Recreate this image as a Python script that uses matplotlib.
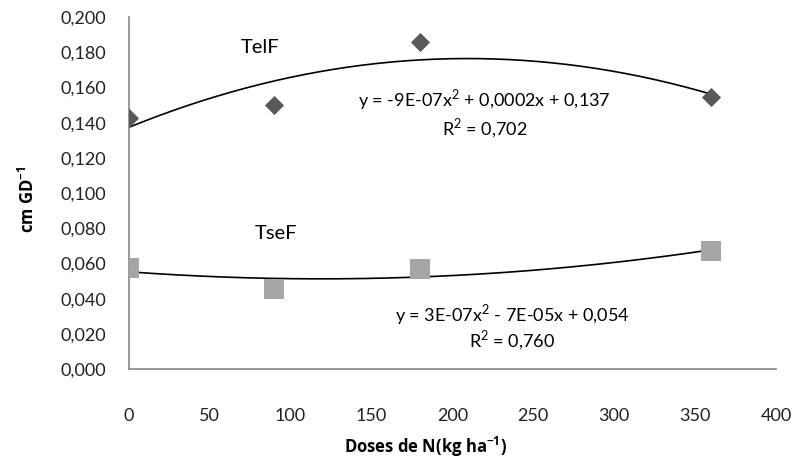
import numpy as np
import matplotlib
matplotlib.use("Agg")
import matplotlib.pyplot as plt

plt.rcParams['font.family'] = ['Lato', 'DejaVu Sans']
plt.rcParams['mathtext.fontset'] = 'custom'
plt.rcParams['mathtext.rm'] = 'Lato'
plt.rcParams['mathtext.bf'] = 'Open Sans:bold'

# doses de N (kg/ha)
doses = [0, 90, 180, 360]
telf = [0.1425, 0.150, 0.186, 0.1545]
tsef = [0.0575, 0.0455, 0.0568, 0.067]

y_ticks = [0.0, 0.02, 0.04, 0.06, 0.08, 0.10, 0.12, 0.14, 0.16, 0.18, 0.20]
x_ticks = [0, 50, 100, 150, 200, 250, 300, 350, 400]

fig = plt.figure(figsize=(7.95, 4.63), dpi=100)
ax = fig.add_axes([0.162, 0.203, 0.814, 0.760])

# trend lines (2nd order poly)
xx = np.linspace(0, 360, 200)
for ys in (telf, tsef):
    c = np.polyfit(doses, ys, 2)
    ax.plot(xx, np.polyval(c, xx), color='black', lw=1.2, zorder=2)

ax.scatter(doses, telf, marker='D', s=95, color='#595959', zorder=3, linewidths=0)
ax.scatter(doses, tsef, marker='s', s=200, color='#A6A6A6', zorder=3, linewidths=0)

ax.set_xlim(0, 400)
ax.set_ylim(0, 0.2)
ax.set_xticks(x_ticks)
ax.set_yticks(y_ticks)
ax.set_yticklabels([f"{v:.3f}".replace('.', ',') for v in y_ticks])
ax.tick_params(axis='both', length=0, labelsize=13, colors='#222222')
ax.tick_params(axis='y', pad=16)
ax.tick_params(axis='x', pad=28)

for s in ['top', 'right']:
    ax.spines[s].set_visible(False)
for s in ['left', 'bottom']:
    ax.spines[s].set_color('#868686')
    ax.spines[s].set_linewidth(1.2)

ax.text(81, 0.183, 'TelF', fontsize=14.5, ha='center', va='center')
ax.text(91, 0.0773, 'TseF', fontsize=14.5, ha='center', va='center')
ax.text(220, 0.153, r'y = -9E-07x$^2$ + 0,0002x + 0,137', fontsize=13, ha='center', va='center')
ax.text(220, 0.137, r'R$^2$ = 0,702', fontsize=13, ha='center', va='center')
ax.text(237, 0.0307, r'y = 3E-07x$^2$ - 7E-05x + 0,054', fontsize=13, ha='center', va='center')
ax.text(237, 0.0165, r'R$^2$ = 0,760', fontsize=13, ha='center', va='center')

fig.text(0.035, 0.57, r'cm GD$^{\mathbf{-1}}$', rotation=90, fontsize=12, fontweight='bold',
         family='Open Sans', ha='center', va='center')
fig.text(0.535, 0.035, r'Doses de N(kg ha$^{\mathbf{-1}}$)', fontsize=12, fontweight='bold',
         family='Open Sans', ha='center', va='center')

fig.savefig('out.png', dpi=100)
